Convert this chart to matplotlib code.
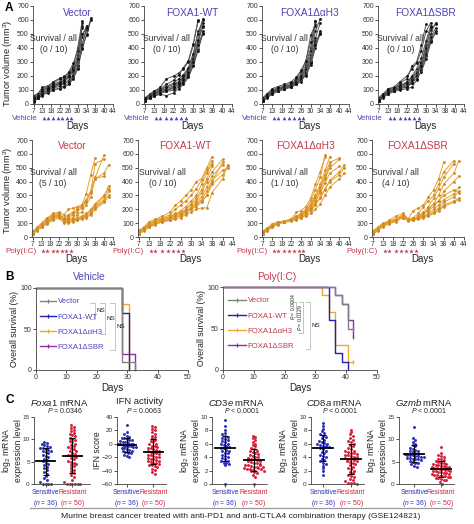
import numpy as np
import matplotlib
matplotlib.use("Agg")
import matplotlib.pyplot as plt
from matplotlib.lines import Line2D

plt.rcParams['font.family'] = ['Liberation Sans', 'DejaVu Sans']
plt.rcParams['mathtext.fontset'] = 'custom'
plt.rcParams['mathtext.rm'] = 'Liberation Sans'
plt.rcParams['mathtext.it'] = 'Liberation Sans:italic'
plt.rcParams['mathtext.bf'] = 'Liberation Sans:bold'

# ---------------- DATA ----------------
GROUPS = ['Vector', 'FOXA1-WT', 'FOXA1\u0394\u03b1H3', 'FOXA1\u0394SBR']
DAY_TICKS = [7, 13, 18, 22, 26, 30, 34, 38, 40, 44]
V_DAYS = [7, 10, 13, 16, 19, 22, 24, 26, 28, 30, 32, 34, 36]
P_DAYS = [7, 10, 13, 16, 19, 22, 24, 26, 28, 30, 32, 34, 36, 38, 40, 42]
INJ_DAYS = [14, 16, 19, 21, 23, 25, 27]

VEH_VECTOR = [
    [30, 55, 80, 100, 120, 140, 160, 190, 230, 330, 580],
    [20, 45, 70, 95, 110, 130, 150, 170, 210, 300, 480, 560],
    [60, 75, 120, 130, 150, 180, 200, 220, 270, 400, 590],
    [15, 40, 60, 85, 100, 115, 130, 150, 190, 260, 390, 500, 615],
    [40, 65, 100, 120, 140, 160, 190, 210, 260, 350, 540],
    [25, 50, 75, 100, 125, 150, 175, 200, 250, 280, 430, 530],
    [35, 60, 90, 110, 130, 140, 150, 160, 200, 270, 420, 550],
    [50, 70, 110, 125, 160, 185, 195, 230, 290, 380, 560],
    [20, 40, 65, 80, 100, 110, 120, 140, 180, 250, 400, 490, 600],
    [45, 60, 95, 115, 135, 155, 170, 200, 240, 320, 500, 540],
]
VEH_WT = [
    [30, 60, 90, 120, 180, 200, 220, 250, 300, 420, 600],
    [25, 50, 80, 100, 120, 140, 160, 190, 240, 330, 450, 600],
    [40, 70, 95, 110, 140, 170, 210, 260, 310, 430, 590],
    [20, 45, 70, 90, 100, 110, 130, 160, 210, 300, 440, 560],
    [35, 55, 80, 95, 110, 130, 160, 200, 250, 350, 520, 580],
    [30, 50, 60, 75, 90, 100, 120, 150, 200, 280, 390, 500],
    [45, 65, 85, 105, 125, 150, 180, 210, 260, 360, 500, 610],
    [25, 40, 55, 70, 60, 80, 110, 140, 190, 270, 380, 520],
    [35, 60, 75, 85, 95, 120, 140, 170, 230, 320, 460, 550],
    [40, 55, 70, 80, 100, 120, 150, 180, 220, 300, 420, 510],
]
VEH_AH3 = [
    [30, 60, 90, 110, 120, 140, 180, 230, 300, 490, 570],
    [40, 70, 100, 115, 130, 150, 170, 210, 280, 400, 590],
    [25, 50, 80, 100, 120, 130, 160, 190, 250, 350, 520, 610],
    [35, 65, 95, 110, 125, 140, 160, 200, 260, 380, 560],
    [20, 45, 75, 95, 110, 125, 150, 180, 230, 330, 470, 580],
    [30, 55, 85, 105, 120, 135, 155, 190, 240, 300, 450],
    [45, 75, 110, 125, 140, 160, 190, 240, 310, 440, 590],
    [25, 50, 70, 90, 105, 120, 140, 170, 220, 310, 430, 520],
    [35, 60, 90, 100, 115, 130, 150, 180, 200, 280, 400, 510],
    [30, 55, 80, 95, 110, 125, 140, 160, 210, 290, 420, 500],
]
VEH_SBR = [
    [30, 60, 90, 110, 150, 180, 270, 300, 420, 570],
    [40, 70, 110, 120, 160, 200, 250, 290, 380, 520, 580],
    [25, 55, 80, 100, 120, 150, 200, 250, 330, 450, 560],
    [35, 60, 95, 110, 130, 160, 190, 230, 300, 420, 530, 570],
    [20, 45, 75, 95, 110, 120, 150, 200, 280, 380, 500, 580],
    [30, 55, 85, 100, 115, 130, 160, 210, 260, 350, 450],
    [45, 75, 105, 115, 135, 150, 180, 220, 290, 400, 550],
    [25, 50, 70, 90, 100, 110, 120, 170, 240, 340, 460, 520],
    [35, 65, 90, 105, 120, 140, 170, 200, 270, 360, 480, 540],
    [30, 50, 80, 95, 110, 125, 150, 180, 230, 320, 440, 510],
]
POLY_VECTOR = [
    [30, 60, 90, 130, 170, 180, 160, 200, 210, 220, 230, 310, 450, 570],
    [40, 70, 100, 140, 150, 160, 140, 160, 180, 200, 220, 260, 330, 430, 590],
    [35, 55, 85, 120, 160, 170, 130, 150, 170, 200, 230, 270, 330, 420, 460, 520],
    [25, 50, 85, 110, 140, 155, 120, 130, 140, 160, 180, 230, 290, 420, 440],
    [30, 55, 80, 105, 150, 165, 125, 140, 160, 180, 210, 250, 320, 530, 560],
    [30, 50, 75, 100, 140, 150, 110, 120, 130, 140, 150, 170, 190, 230, 290, 370],
    [35, 60, 90, 110, 130, 160, 130, 120, 120, 130, 140, 160, 200, 240, 300, 350],
    [20, 45, 70, 95, 120, 140, 100, 110, 120, 125, 135, 150, 180, 220, 270, 330],
    [40, 65, 95, 120, 150, 170, 120, 100, 110, 120, 130, 140, 160, 200, 250, 300],
    [25, 50, 80, 100, 130, 150, 110, 115, 120, 130, 140, 150, 170, 210, 260, 290],
]
POLY_WT = [
    [40, 70, 110, 130, 150, 180, 230, 260, 300, 340, 400, 420, 500, 580],
    [30, 60, 90, 120, 140, 160, 200, 230, 260, 300, 350, 410, 480, 550],
    [25, 50, 80, 100, 120, 140, 160, 190, 220, 260, 300, 380, 460, 530],
    [50, 70, 100, 120, 130, 150, 170, 180, 200, 230, 260, 320, 400, 470, 560],
    [35, 55, 85, 105, 115, 130, 150, 170, 190, 210, 250, 290, 360, 440, 520],
    [20, 45, 70, 90, 110, 120, 140, 150, 170, 200, 240, 270, 330, 410, 480, 500],
    [30, 60, 95, 110, 125, 140, 155, 165, 180, 210, 230, 260, 300, 380, 450, 510],
    [45, 65, 90, 115, 130, 145, 160, 175, 200, 240, 280, 340, 420, 510],
    [25, 50, 75, 95, 110, 120, 130, 140, 160, 180, 200, 210, 210, 320, 420, 520],
    [35, 55, 80, 100, 115, 125, 140, 160, 180, 200, 220, 250, 300, 400, 540],
]
POLY_AH3 = [
    [40, 60, 80, 100, 110, 130, 180, 190, 220, 280, 380, 470, 580],
    [30, 55, 85, 100, 110, 120, 150, 170, 200, 260, 340, 430, 590],
    [35, 60, 90, 105, 115, 125, 140, 160, 190, 240, 300, 380, 480, 580],
    [25, 50, 80, 95, 110, 120, 135, 150, 180, 220, 280, 350, 430, 520],
    [45, 65, 95, 110, 115, 130, 150, 165, 190, 230, 290, 360, 450, 540, 570],
    [30, 55, 75, 95, 110, 120, 130, 145, 170, 210, 260, 320, 390, 460, 510],
    [20, 45, 70, 90, 105, 115, 125, 140, 160, 190, 230, 280, 340, 410, 470, 520],
    [35, 60, 85, 100, 110, 125, 140, 155, 175, 200, 240, 290, 350, 400, 450, 500],
    [25, 50, 80, 95, 110, 120, 130, 140, 150, 170, 200, 240, 300, 360, 420, 460],
    [40, 65, 90, 105, 115, 130, 150, 160, 180, 210, 260, 330, 420, 500, 560],
]
POLY_SBR = [
    [30, 60, 90, 120, 150, 170, 130, 190, 210, 230, 290, 340, 420, 540],
    [40, 65, 95, 110, 130, 160, 120, 140, 170, 220, 260, 300, 380, 470, 550],
    [35, 55, 85, 105, 125, 150, 125, 130, 150, 180, 220, 280, 350, 430, 530],
    [25, 50, 80, 100, 120, 140, 120, 125, 140, 160, 200, 240, 300, 380, 460, 550],
    [45, 70, 100, 115, 130, 160, 130, 135, 145, 170, 190, 220, 260, 330, 400, 440],
    [30, 55, 80, 100, 115, 150, 130, 130, 140, 150, 170, 200, 230, 270, 310, 360],
    [35, 60, 90, 105, 120, 145, 120, 125, 135, 145, 160, 180, 210, 250, 290, 330],
    [20, 45, 75, 95, 110, 140, 115, 120, 130, 140, 150, 170, 190, 220, 250, 270],
    [40, 65, 95, 110, 125, 155, 125, 130, 150, 170, 200, 240, 260, 300, 340, 320],
    [30, 50, 85, 100, 115, 150, 120, 130, 140, 150, 160, 180, 200, 230, 260, 280],
]
SURVIVAL_TEXT_VEH = ['(0 / 10)', '(0 / 10)', '(0 / 10)', '(0 / 10)']
SURVIVAL_TEXT_POLY = ['(5 / 10)', '(0 / 10)', '(1 / 10)', '(4 / 10)']

# Kaplan-Meier steps (time, % surviving)
KM_VEH_T = [[0, 28.3, 32.5], [0, 28.3, 30.5], [0, 28.3, 30.5], [0, 28.3, 32.5]]
KM_VEH_S = [[100, 10, 0], [100, 70, 0], [100, 80, 0], [100, 20, 0]]
KM_POLY_T = [[0, 36.4, 38.5, 40.7, 42.3], [0, 34.4, 36.4, 38.5, 40.7],
             [0, 32.2, 34.4, 36.4, 40.7, 42.3], [0, 36.5, 38.5, 40.7, 42.3]]
KM_POLY_S = [[100, 90, 80, 50, 50], [100, 60, 20, 10, 0],
             [100, 90, 70, 30, 10, 10], [100, 90, 80, 60, 40]]

# Panel C values
FOXA1_S = [9.4, 9.1, 8.9, 8.7, 8.5, 8.3, 8.1, 8.0, 7.9, 7.7, 7.5, 7.3, 7.1, 6.9, 6.6, 6.3, 6.0, 5.7,
           5.4, 5.1, 4.8, 4.5, 4.2, 3.9, 3.5, 3.1, 2.7, 2.3, 1.9, 1.4, 0.9, 0.4, 0.1, 0.1, 0.1, 0.1]
FOXA1_R = [13.2, 12.8, 12.5, 12.2, 11.8, 11.5, 11.2, 11.0, 10.7, 10.4, 10.1, 9.8, 9.6, 9.3, 9.0, 8.8,
           8.5, 8.2, 8.0, 7.8, 7.5, 7.3, 7.0, 6.8, 6.6, 6.4, 6.2, 6.0, 5.8, 5.5, 5.2, 5.0, 4.8, 4.5,
           4.2, 4.0, 3.6, 3.2, 2.8, 2.4, 2.0, 1.5, 1.0, 0.5, 0.1, 0.1, 0.1, 0.1, 0.1, 0.1]
IFN_S = [28, 18, 14, 12, 10, 9, 8, 7, 6, 5, 4, 3, 2, 1, 0, 0, -1, -1, -2, -3, -3, -4, -5, -5, -6,
         -7, -8, -9, -10, -11, -12, -13, -14, -16, -18, -20]
IFN_R = [27, 25, 22, 20, 18, 15, 12, 10, 8, 6, 4, 2, 0, -1, -3, -4, -5, -6, -7, -8, -9, -10, -11,
         -12, -13, -14, -15, -16, -17, -18, -19, -20, -21, -22, -23, -24, -25, -26, -27, -28, -29,
         -30, -31, -32, -33, -35, -37, -39, -42, -45]
CD3E_S = [9.6, 8.6, 8.0, 7.6, 7.4, 7.2, 7.0, 6.9, 6.7, 6.5, 6.4, 6.2, 6.0, 5.9, 5.8, 5.6, 5.5, 5.4,
          5.3, 5.1, 5.0, 4.9, 4.7, 4.6, 4.4, 4.2, 4.0, 3.9, 3.7, 3.5, 3.4, 3.2, 3.1, 3.0, 2.9, 0.0]
CD3E_R = [7.2, 7.0, 6.8, 6.5, 6.2, 6.0, 5.8, 5.6, 5.4, 5.2, 5.0, 4.9, 4.8, 4.6, 4.5, 4.4, 4.2, 4.1,
          4.0, 3.9, 3.8, 3.7, 3.6, 3.5, 3.4, 3.3, 3.2, 3.1, 3.0, 2.9, 2.8, 2.7, 2.6, 2.5, 2.4, 2.3,
          2.2, 2.1, 2.0, 1.9, 2.8, 2.6, 2.4, 2.2, 2.0, 1.8, 1.6, 1.3, 1.0, 0.0]
CD8A_S = [9.1, 8.6, 8.2, 7.9, 7.6, 7.4, 7.2, 7.0, 6.8, 6.6, 6.4, 6.3, 6.1, 6.0, 5.9, 5.8, 5.7, 5.6,
          5.5, 5.4, 5.2, 5.0, 4.8, 4.6, 4.4, 4.2, 4.0, 3.8, 3.6, 3.4, 3.2, 3.0, 2.7, 2.4, 1.9, 1.3]
CD8A_R = [8.0, 7.7, 7.4, 7.1, 6.8, 6.6, 6.4, 6.2, 6.0, 5.8, 5.6, 5.4, 5.2, 5.0, 4.9, 4.8, 4.7, 4.6,
          4.5, 4.4, 4.3, 4.2, 4.1, 4.0, 3.9, 3.8, 3.7, 3.6, 3.5, 3.4, 3.3, 3.2, 3.0, 2.8, 2.6, 2.4,
          2.2, 2.0, 1.8, 1.6, 1.4, 1.2, 1.0, 0.8, 0.6, 0.4, 0.2, 0.1, 0.1, 0.0]
GZMB_S = [12.8, 10.3, 9.8, 9.4, 9.0, 8.7, 8.4, 8.1, 7.9, 7.7, 7.5, 7.3, 7.1, 6.9, 6.8, 6.7, 6.6, 6.5,
          6.4, 6.3, 6.2, 6.1, 6.0, 5.9, 5.8, 5.7, 5.6, 5.5, 5.4, 5.2, 5.0, 4.8, 4.6, 4.4, 4.1, 3.8]
GZMB_R = [8.3, 7.0, 6.6, 6.3, 6.0, 5.7, 5.5, 5.3, 5.1, 4.9, 4.7, 4.6, 4.5, 4.4, 4.3, 4.2, 4.1, 4.0,
          3.9, 3.8, 3.7, 3.6, 3.5, 3.4, 3.3, 3.2, 3.1, 3.0, 2.9, 2.8, 2.7, 2.6, 2.5, 2.4, 2.3, 2.2,
          2.1, 2.0, 1.9, 1.8, 1.7, 1.6, 1.5, 1.4, 1.3, 1.2, 1.0, 0.8, 0.5, 0.0]
C_TITLES = [r'$\it{Foxa1}$ mRNA', 'IFN activity', r'$\it{CD3e}$ mRNA', r'$\it{CD8a}$ mRNA', r'$\it{Gzmb}$ mRNA']
C_PVALS = [r'$\it{P}$ = 0.0346', r'$\it{P}$ = 0.0063', r'$\it{P}$ < 0.0001', r'$\it{P}$ < 0.0001', r'$\it{P}$ < 0.0001']
C_CATS = [r'Sensitive' + '\n' + r'($\it{n}$ = 36)', r'Resistant' + '\n' + r'($\it{n}$ = 50)']

# ---------------- STYLE ----------------
BLUE_T = '#4b45b5'
RED_T = '#c23a4e'
ORANGE = '#e8a02c'
ORANGE_M = '#c88a2a'
SENS = '#2b2fb8'
RES = '#d3223a'
KM_COLORS = ['#808080', '#1f1fb4', '#f0a830', '#8e2ab0']

W, H = 474, 524
fig = plt.figure(figsize=(W / 100, H / 100), dpi=100)


def add_ax(x0, y0, x1, y1):
    return fig.add_axes([x0 / W, 1 - y1 / H, (x1 - x0) / W, (y1 - y0) / H])


def style(ax, ls=5.0):
    for s in ['top', 'right']:
        ax.spines[s].set_visible(False)
    for s in ['left', 'bottom']:
        ax.spines[s].set_linewidth(0.6)
        ax.spines[s].set_color('#444')
    ax.tick_params(length=2, width=0.6, pad=1, labelsize=ls, colors='#333')


# day axis: the tick days are spread evenly
KD = [0] + DAY_TICKS + [60]
KP = [-1.2] + list(range(len(DAY_TICKS))) + [13]


def fwd(x):
    return np.interp(x, KD, KP)


def inv(p):
    return np.interp(p, KP, KD)


rows = [
    dict(days=V_DAYS, data=[VEH_VECTOR, VEH_WT, VEH_AH3, VEH_SBR], y0=6, y1=104,
         xs=[(33, 113), (144, 232), (262, 349), (378, 464)], tcol=BLUE_T,
         lcol='#555555', mcol='#111111', surv=SURVIVAL_TEXT_VEH, lab='Vehicle', mk='^', ty=0.93, tx=0.55,
         ly=0.42),
    dict(days=P_DAYS, data=[POLY_VECTOR, POLY_WT, POLY_AH3, POLY_SBR], y0=140, y1=237,
         xs=[(32, 113), (138, 233), (262, 349), (372, 464)], tcol=RED_T,
         lcol=ORANGE, mcol=ORANGE_M, surv=SURVIVAL_TEXT_POLY, lab='Poly(I:C)', mk='*', ty=0.94, tx=0.5,
         ly=0.48),
]
for r in rows:
    for gi, (x0, x1) in enumerate(r['xs']):
        ax = add_ax(x0, r['y0'], x1, r['y1'])
        style(ax)
        ax.tick_params(axis='x', labelsize=4.8)
        ax.set_xscale('function', functions=(fwd, inv))
        ax.set_xlim(6.6, 44)
        ax.set_ylim(0, 700)
        ax.set_xticks(DAY_TICKS)
        ax.set_yticks(range(0, 701, 100))
        for curve in r['data'][gi]:
            ax.plot(r['days'][:len(curve)], curve, '-', color=r['lcol'], lw=0.7,
                    marker='o', ms=2.0, mfc=r['mcol'], mec=r['mcol'], mew=0, clip_on=False)
        ax.text(r['tx'], r['ty'], GROUPS[gi], transform=ax.transAxes, ha='center', va='center',
                fontsize=7.3, color=r['tcol'])
        ax.text(0.26, 0.61, 'Survival / all\n' + r['surv'][gi], transform=ax.transAxes,
                ha='center', va='center', fontsize=6.2, color='#333', linespacing=1.25)
        hpx = r['y1'] - r['y0']
        ax.text(0.06, -14 / hpx, r['lab'], transform=ax.transAxes, ha='right', va='center',
                fontsize=5.8, color=r['tcol'])
        tr = matplotlib.transforms.blended_transform_factory(ax.transData, ax.transAxes)
        ax.plot(INJ_DAYS, [-14 / hpx] * len(INJ_DAYS), linestyle='none', marker=r['mk'],
                ms=2.6 if r['mk'] == '^' else 3.4, color=r['tcol'], mew=0, transform=tr, clip_on=False)
        ax.text(0.55, -22 / hpx, 'Days', transform=ax.transAxes, ha='center', va='center',
                fontsize=7, color='#222')
        if gi == 0:
            ax.set_ylabel('Tumor volume (mm$^3$)', fontsize=6.6, color='#222')
            ax.yaxis.set_label_coords(-(x0 - 15) / (x1 - x0), r['ly'])

# ---------------- B: survival ----------------
surv_specs = [
    dict(box=(36, 288, 188, 370), T=KM_VEH_T, S=KM_VEH_S, title='Vehicle', tcol=BLUE_T, tx=89,
         leg_x=0.026, leg_y=0.88, hl=2.0),
    dict(box=(223, 287, 377, 370), T=KM_POLY_T, S=KM_POLY_S, title='Poly(I:C)', tcol=RED_T, tx=277,
         leg_x=0.03, leg_y=0.88, hl=2.3),
]
for si, sp in enumerate(surv_specs):
    x0, y0, x1, y1 = sp['box']
    ax = add_ax(x0, y0, x1, y1)
    style(ax)
    ax.set_xlim(0, 50)
    ax.set_ylim(0, 100)
    ax.set_xticks(range(0, 51, 10))
    ax.set_yticks([0, 50, 100])
    for gi in [3, 2, 1, 0]:
        ax.step(sp['T'][gi], sp['S'][gi], where='post', color=KM_COLORS[gi], lw=1.0, clip_on=False)
        if sp['S'][gi][-1] > 0:
            ax.plot(sp['T'][gi][-1], sp['S'][gi][-1], marker='|', ms=3, color=KM_COLORS[gi], mew=0.9)
    ax.set_xlabel('Days', fontsize=7, labelpad=1, color='#222')
    ax.set_ylabel('Overall survival (%)', fontsize=6.3, color='#222')
    ax.yaxis.set_label_coords(-(x0 - 19 - (187 if si else 0)) / (x1 - x0), 0.5)
    fig.text(sp['tx'] / W, 1 - 277 / H, sp['title'], ha='center', va='center', fontsize=7.3, color=sp['tcol'])
    handles = [Line2D([], [], color=c, lw=1.0, marker='|', ms=3.5, mew=0.9) for c in KM_COLORS]
    ax.legend(handles, GROUPS, loc='upper left', bbox_to_anchor=(sp['leg_x'], sp['leg_y']),
              frameon=False, fontsize=5.6, handlelength=sp['hl'], handletextpad=0.3,
              labelspacing=1.0, borderaxespad=0, borderpad=0, labelcolor=sp['tcol'])
    hp = y1 - y0
    rows_y = [(y1 - yy) / hp for yy in ([303, 319, 334, 350] if si == 0 else [302, 317, 333, 349])]
    wp = x1 - x0
    if si == 0:
        for k, xb in enumerate([95, 105, 115]):
            xa = (xb - x0) / wp
            xl = (xb - 5 - x0) / wp
            ya, yb = rows_y[0], rows_y[k + 1]
            ax.plot([xl, xa, xa, xl], [ya, ya, yb, yb], color='#bbbbbb', lw=0.6, transform=ax.transAxes)
            ax.text(xa + 1.5 / wp, (ya + yb) / 2, 'NS', transform=ax.transAxes, fontsize=4.5,
                    va='center', ha='left', color='#222')
    else:
        labels = [r'$\it{P}$ = 0.0004', r'$\it{P}$ = 0.0129', 'NS']
        for k, xb in enumerate([296, 303, 310]):
            xa = (xb - x0) / wp
            xl = (xb - 4 - x0) / wp
            ya, yb = rows_y[0], rows_y[k + 1]
            ax.plot([xl, xa, xa, xl], [ya, ya, yb, yb], color='#bbbbbb', lw=0.6, transform=ax.transAxes)
            if k < 2:
                ax.text(xa - 2.6 / wp, (ya + yb) / 2 + (0.03 if k == 0 else 0.0), labels[k],
                        transform=ax.transAxes, fontsize=3.7, rotation=90, va='center', ha='center',
                        color='#222')
            else:
                ax.text(xa + 2 / wp, (ya + yb) / 2, 'NS', transform=ax.transAxes, fontsize=4.5,
                        va='center', ha='left', color='#222')

# ---------------- C: scatter ----------------
c_specs = [
    dict(S=FOXA1_S, R=FOXA1_R, ylim=(0, 15), yt=[0, 5, 10, 15], yl='log$_2$ mRNA\nexpression level',
         box=(34, 90), xlim=(-0.44, 1.67), lx=11),
    dict(S=IFN_S, R=IFN_R, ylim=(-60, 40), yt=[-60, -40, -20, 0, 20, 40], yl='IFN score',
         box=(117, 166), xlim=(-0.37, 1.48), lx=15),
    dict(S=CD3E_S, R=CD3E_R, ylim=(0, 10), yt=[0, 2, 4, 6, 8, 10], yl='log$_2$ mRNA\nexpression level',
         box=(212, 267), xlim=(-0.45, 1.45), lx=11),
    dict(S=CD8A_S, R=CD8A_R, ylim=(0, 10), yt=[0, 2, 4, 6, 8, 10], yl='log$_2$ mRNA\nexpression level',
         box=(311, 364), xlim=(-0.43, 1.46), lx=11),
    dict(S=GZMB_S, R=GZMB_R, ylim=(0, 15), yt=[0, 5, 10, 15], yl='log$_2$ mRNA\nexpression level',
         box=(399, 454), xlim=(-0.56, 1.48), lx=11),
]


def swarm(vals, bin_h, dx):
    v = np.asarray(vals, dtype=float)
    bins = np.floor(v / bin_h)
    off = np.zeros(len(v))
    for b in np.unique(bins):
        idx = np.where(bins == b)[0]
        n = len(idx)
        off[idx] = (np.arange(n) - (n - 1) / 2) * dx
    return off


CY0, CY1 = 417, 484
for ci, cs in enumerate(c_specs):
    x0, x1 = cs['box']
    ax = add_ax(x0, CY0, x1, CY1)
    style(ax, ls=4.6)
    ax.set_xlim(*cs['xlim'])
    ax.set_ylim(*cs['ylim'])
    ax.set_yticks(cs['yt'])
    rng = cs['ylim'][1] - cs['ylim'][0]
    for i, (vals, col) in enumerate([(cs['S'], SENS), (cs['R'], RES)]):
        off = swarm(vals, rng / 20, 0.1)
        ax.scatter(i + off, vals, s=4.5, color=col, lw=0, clip_on=False, zorder=2)
        m = np.mean(vals)
        sd = np.std(vals, ddof=1)
        ax.plot([i - 0.36, i + 0.36], [m, m], color='k', lw=1.3, zorder=3)
        ax.errorbar([i], [m], yerr=[sd], color='k', lw=0.8, capsize=2.2, capthick=0.8, zorder=3)
    ax.set_xticks([0, 1])
    ax.set_xticklabels(C_CATS, fontsize=4.9, linespacing=1.3)
    for t, col in zip(ax.get_xticklabels(), [SENS, RES]):
        t.set_color(col)
    ax.tick_params(axis='x', length=2, pad=1.5)
    ax.set_ylabel(cs['yl'], fontsize=6.2, color='#222', linespacing=1.1)
    ax.yaxis.set_label_coords(-cs['lx'] / (x1 - x0), 0.5)
    hp = CY1 - CY0
    ax.text(0.45, (CY1 - 402) / hp, C_TITLES[ci], transform=ax.transAxes, ha='center', va='center',
            fontsize=6.8, color='#222')
    ax.text(0.55, (CY1 - 410.5) / hp, C_PVALS[ci], transform=ax.transAxes, ha='center', va='center',
            fontsize=5.0, color='#222')

fig.add_artist(Line2D([30 / W, 452 / W], [1 - 508 / H, 1 - 508 / H], color='#9a9a9a', lw=0.9))
fig.text(241 / W, 1 - 516 / H,
         'Murine breast cancer treated with anti-PD1 and anti-CTLA4 combination therapy (GSE124821)',
         ha='center', va='center', fontsize=6.1, color='#222')

for lab, yy in [('A', 8), ('B', 277), ('C', 400)]:
    fig.text(5 / W, 1 - yy / H, lab, ha='left', va='center', fontsize=8.5, weight='bold')

fig.savefig('out.png', dpi=100)
